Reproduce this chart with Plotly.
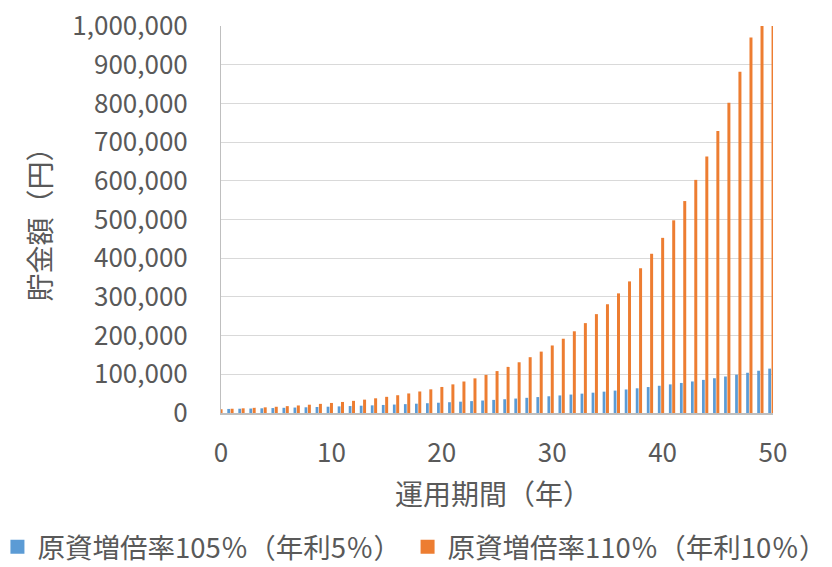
import plotly.graph_objects as go

# 運用年数（0〜50年）
years = list(range(0, 51))

# 年利5%で運用した場合の貯金額（円）
savings_5pct = [
    10000, 10500, 11025, 11576, 12155, 12763, 13401, 14071, 14775, 15513,
    16289, 17103, 17959, 18856, 19799, 20789, 21829, 22920, 24066, 25270,
    26533, 27860, 29253, 30715, 32251, 33864, 35557, 37335, 39201, 41161,
    43219, 45380, 47649, 50032, 52533, 55160, 57918, 60814, 63855, 67048,
    70400, 73920, 77616, 81497, 85572, 89850, 94343, 99060, 104013, 109213,
    114674,
]

# 年利10%で運用した場合の貯金額（円）
savings_10pct = [
    10000, 11000, 12100, 13310, 14641, 16105, 17716, 19487, 21436, 23579,
    25937, 28531, 31384, 34523, 37975, 41772, 45950, 50545, 55599, 61159,
    67275, 74002, 81403, 89543, 98497, 108347, 119182, 131100, 144210, 158631,
    174494, 191943, 211138, 232252, 255477, 281024, 309127, 340039, 374043, 411448,
    452593, 497852, 547637, 602401, 662641, 728905, 801795, 881975, 970172, 1067190,
    1173909,
]

series_names = ["原資増倍率105％（年利5％）", "原資増倍率110％（年利10％）"]
series_colors = ["#5B9BD5", "#ED7D31"]
x_ticks = [0, 10, 20, 30, 40, 50]
y_ticks = list(range(0, 1000001, 100000))

FONT = "Noto Sans CJK JP"
GREY = "#595959"

fig = go.Figure()
fig.add_trace(go.Bar(
    x=years, y=savings_5pct, name=series_names[0],
    marker=dict(color=series_colors[0], line=dict(width=0)),
    offset=-0.43, width=0.25, showlegend=False,
))
fig.add_trace(go.Bar(
    x=years, y=savings_10pct, name=series_names[1],
    marker=dict(color=series_colors[1], line=dict(width=0)),
    offset=-0.13, width=0.27, showlegend=False,
))

# 凡例用の四角マーカー（系列ごとに別の凡例へ配置）
for name, color, leg in zip(series_names, series_colors, ["legend", "legend2"]):
    fig.add_trace(go.Scatter(
        x=[None], y=[None], mode="markers", name=name, legend=leg,
        marker=dict(symbol="square", size=14, color=color, line=dict(width=0)),
    ))

legend_style = dict(
    orientation="h", yanchor="middle", y=-0.346, xanchor="left",
    itemsizing="trace",
    font=dict(size=27.5, color=GREY, family=FONT),
    bgcolor="rgba(0,0,0,0)", itemclick=False, itemdoubleclick=False,
)

fig.update_layout(
    width=832, height=567,
    margin=dict(l=221, r=59, t=26, b=154, autoexpand=False),
    paper_bgcolor="white", plot_bgcolor="white",
    font=dict(family=FONT, color=GREY),
    barmode="overlay",
    showlegend=True,
    legend=dict(x=-0.405, **legend_style),
    legend2=dict(x=0.338, **legend_style),
    xaxis=dict(
        range=[0, 50], tickvals=x_ticks, ticktext=[str(v) for v in x_ticks],
        showgrid=False, zeroline=False, automargin=False,
        showline=True, linecolor="#BFBFBF", linewidth=1.5,
        ticks="", ticklabelstandoff=16,
        tickfont=dict(size=26, color=GREY, family=FONT),
    ),
    yaxis=dict(
        range=[0, 1000000], tickvals=y_ticks,
        ticktext=[f"{v:,}" for v in y_ticks],
        showgrid=True, gridcolor="#D9D9D9", gridwidth=1.2,
        zeroline=False, showline=True, linecolor="#BFBFBF", linewidth=1,
        automargin=False,
        ticks="", ticklabelstandoff=27,
        tickfont=dict(size=26, color=GREY, family=FONT),
    ),
    annotations=[
        dict(text="運用期間（年）", xref="paper", yref="paper", x=0.5, y=0,
             xanchor="center", yanchor="middle", yshift=-80, xshift=-4,
             showarrow=False, font=dict(size=28, color=GREY, family=FONT)),
        dict(text="貯金額（円）", xref="paper", yref="paper", x=0, y=0.5,
             xanchor="center", yanchor="middle", xshift=-183, yshift=2,
             textangle=-90, showarrow=False,
             font=dict(size=28, color=GREY, family=FONT)),
    ],
)

fig.write_html("out.html")
